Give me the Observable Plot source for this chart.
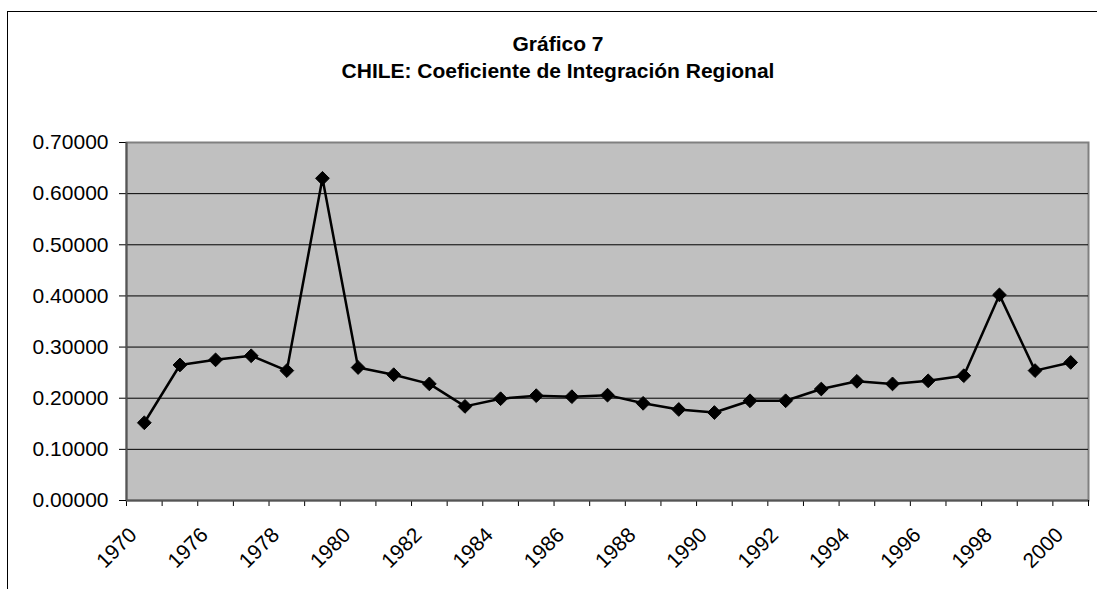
<!DOCTYPE html>
<html>
<head>
<meta charset="utf-8">
<script src="https://cdn.jsdelivr.net/npm/d3@7"></script>
<script src="https://cdn.jsdelivr.net/npm/@observablehq/plot@0.6"></script>
<style>
  html, body { margin: 0; padding: 0; background: #fff; }
  #wrap { position: relative; width: 1097px; height: 589px; overflow: hidden; font-family: "Liberation Sans", Arial, sans-serif; }
  #frame { position: absolute; left: 7px; top: 11px; width: 1200px; height: 700px; border-top: 1px solid #000; border-left: 1px solid #000; }
  #title { position: absolute; left: 0; width: 1116px; top: 30px; text-align: center; font-weight: bold; font-size: 21px; line-height: 27px; color: #000; }
  #chart { position: absolute; left: 0; top: 0; }
</style>
</head>
<body>
<div id="wrap">
  <div id="frame"></div>
  <div id="chart"></div>
  <div id="title">Gráfico 7<br>CHILE: Coeficiente de Integración Regional</div>
</div>
<script>
const years = ["1970","1975","1976","1977","1978","1979","1980","1981","1982","1983","1984","1985","1986","1987","1988","1989","1990","1991","1992","1993","1994","1995","1996","1997","1998","1999","2000"];
const values = [0.152,0.265,0.275,0.283,0.254,0.630,0.260,0.246,0.228,0.184,0.199,0.205,0.203,0.206,0.190,0.178,0.172,0.195,0.195,0.218,0.233,0.228,0.234,0.244,0.402,0.254,0.270];
const yTicks = [0, 0.1, 0.2, 0.3, 0.4, 0.5, 0.6, 0.7];
const labelYears = years.filter((d, i) => i % 2 === 0);

const data = years.map((y, i) => ({year: y, pos: i + 0.5, value: values[i]}));
const boundaries = d3.range(years.length + 1);
const labelPos = labelYears.map(y => years.indexOf(y) + 0.5);

const chart = Plot.plot({
  width: 1097,
  height: 589,
  marginLeft: 126,
  marginRight: 9,
  marginTop: 142,
  marginBottom: 89,
  style: {fontFamily: "'Liberation Sans', Arial, sans-serif", fontSize: "21px", background: "transparent", overflow: "visible"},
  x: {type: "linear", domain: [0, years.length], axis: null},
  y: {domain: [0, 0.7], axis: null},
  marks: [
    Plot.frame({fill: "#c0c0c0", stroke: "#808080", strokeWidth: 2}),
    Plot.ruleY(yTicks.filter(d => d > 0 && d < 0.7), {stroke: "#000", strokeWidth: 1}),
    Plot.axisY({ticks: yTicks, tickSize: 7, tickPadding: 11, tickFormat: d3.format(".5f"), fontSize: 21, label: null, stroke: "#000"}),
    Plot.axisX({ticks: boundaries, tickSize: 6, tickFormat: () => "", label: null}),
    Plot.axisX({ticks: labelPos, tickSize: 0, tickPadding: 31, dx: -11, tickRotate: -45, fontSize: 21, label: null,
      tickFormat: d => years[Math.round(d - 0.5)]}),
    Plot.ruleX([0], {stroke: "#555", strokeWidth: 2}),
    Plot.ruleY([0], {stroke: "#555", strokeWidth: 2}),
    Plot.line(data, {x: "pos", y: "value", stroke: "#000", strokeWidth: 2.5}),
    Plot.dot(data, {x: "pos", y: "value", symbol: "diamond2", r: 6.2, fill: "#000", stroke: "#000", strokeWidth: 1})
  ]
});
document.getElementById("chart").appendChild(chart);
</script>
</body>
</html>
